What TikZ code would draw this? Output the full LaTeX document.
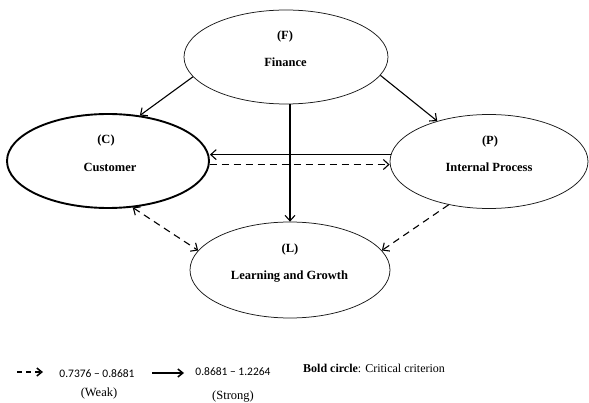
\documentclass[tikz,border=0pt]{standalone}
\usepackage{fontspec}
\setmainfont{Liberation Serif}
\newfontfamily\numfont{Carlito}
\usetikzlibrary{arrows.meta,shapes.geometric}
\begin{document}
\begin{tikzpicture}[x=1pt,y=-1pt,
  ell/.style={ellipse, draw=black!90, line width=0.75pt, inner sep=0pt},
  boldell/.style={ellipse, draw=black, line width=1.9pt, inner sep=0pt},
  lbl/.style={font=\fontsize{12.5}{14}\selectfont\bfseries, inner sep=0pt, anchor=base},
  conn/.style={line width=1.1pt, -{Straight Barb[length=5.5pt,width=10pt]}},
  dconn/.style={conn, dash pattern=on 7pt off 5pt},
  numtxt/.style={font=\numfont\fontsize{11.5}{13}\selectfont, inner sep=0pt, anchor=base},
  legtxt/.style={font=\fontsize{12.5}{14}\selectfont, inner sep=0pt, anchor=base}]
\useasboundingbox[fill=white] (0,0) rectangle (589,403);
% ellipses
\node[ell, minimum width=204pt, minimum height=94pt] (F) at (286,57) {};
\node[boldell, minimum width=202pt, minimum height=94pt] (C) at (108,161) {};
\node[ell, minimum width=198pt, minimum height=94pt] (P) at (489,161.5) {};
\node[ell, minimum width=200pt, minimum height=96pt] (L) at (290,270) {};
% labels
\node[lbl] (Fa) at (285,40) {(F)};
\node[lbl] (Fb) at (285.5,67) {Finance};
\node[lbl] (Ca) at (106,144) {(C)};
\node[lbl] (Cb) at (110,172) {Customer};
\node[lbl] (Pa) at (490,145) {(P)};
\node[lbl] (Pb) at (489,172) {Internal Process};
\node[lbl] (La) at (290,253) {(L)};
\node[lbl] (Lb) at (289.5,280) {Learning and Growth};
% connectors
\draw[conn] (F.192) -- (C.55);
\draw[conn] (F.349) -- (P.142);
\draw[conn] (L.north |- F.south) -- (L.north);
\draw[conn] (P.176) -- (C.east |- P.176);
\draw[dconn] (C.-2) -- (P.west |- C.-2);
\draw[dconn, {Straight Barb[length=5.5pt,width=10pt]}-{Straight Barb[length=5.5pt,width=10pt]}] (C.-62) -- (L.168);
\draw[dconn] (P.227) -- (L.12);
% legend
\coordinate (d1) at (17,372);
\coordinate (d2) at (43,372);
\draw[line width=1.5pt, dash pattern=on 5pt off 4pt, -{Straight Barb[length=5pt,width=8pt]}] (d1) -- (d2);
\node[numtxt] (w1) at (97,377) {0.7376 − 0.8681};
\node[legtxt] (w2) at (99,396) {(Weak)};
\coordinate (s1) at (152,373);
\coordinate (s2) at (184,373);
\draw[line width=1.5pt, -{Straight Barb[length=5pt,width=8pt]}] (s1) -- (s2);
\node[numtxt] (g1) at (233,375) {0.8681 − 1.2264};
\node[legtxt] (g2) at (233,399) {(Strong)};
\node[legtxt, font=\fontsize{12}{14}\selectfont, anchor=base west] (bc) at (303,372) {\textbf{Bold circle}: Critical criterion};
\end{tikzpicture}
\end{document}
